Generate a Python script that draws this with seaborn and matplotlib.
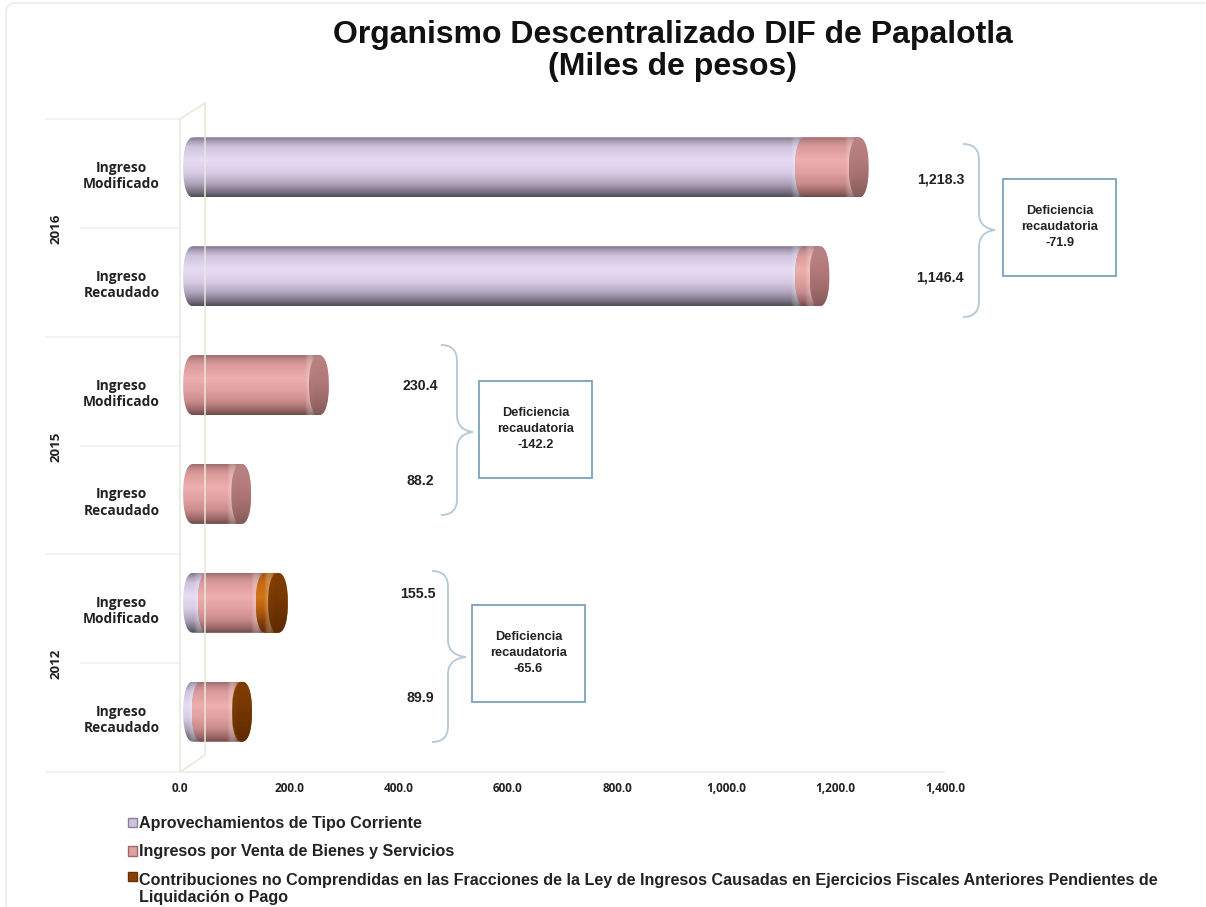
import numpy as np
import pandas as pd
import matplotlib
matplotlib.use("Agg")
import matplotlib.pyplot as plt
import seaborn as sns
from matplotlib.colors import LinearSegmentedColormap
from matplotlib.patches import PathPatch, Patch, FancyBboxPatch, Rectangle
from matplotlib.path import Path
from matplotlib.transforms import Affine2D, ScaledTranslation

# data
years = ["2016", "2015", "2012"]
rows = ["2016 mod", "2016 rec", "2015 mod", "2015 rec", "2012 mod", "2012 rec"]
row_labels = ["Ingreso\nModificado", "Ingreso\nRecaudado"] * 3
aprovechamientos = [1120.0, 1120.0, 0.0, 0.0, 27.0, 16.0]
venta_bienes = [98.3, 26.4, 230.4, 88.2, 106.0, 73.0]
contribuciones = [0.0, 0.0, 0.0, 0.0, 22.5, 0.9]
totals = ["1,218.3", "1,146.4", "230.4", "88.2", "155.5", "89.9"]
deficiencias = ["-71.9", "-142.2", "-65.6"]
x_ticks = [0, 200, 400, 600, 800, 1000, 1200, 1400]
legend_labels = [
    "Aprovechamientos de Tipo Corriente",
    "Ingresos por Venta de Bienes y Servicios",
    "Contribuciones no Comprendidas en las Fracciones de la Ley de Ingresos Causadas en Ejercicios Fiscales Anteriores Pendientes de\nLiquidación o Pago",
]

W, H = 1206, 907
sns.set_theme(style="white")
plt.rcParams["font.family"] = ["Liberation Sans", "DejaVu Sans"]

fig = plt.figure(figsize=(W / 100, H / 100), dpi=100)
ax = fig.add_axes([180 / W, 1 - 772 / H, (945 - 180) / W, (772 - 119) / H])
px = Affine2D().scale(1, -1).translate(0, H)  # reference pixels, y going down

df = pd.DataFrame({"row": rows, "aprov": aprovechamientos, "venta": venta_bienes, "contrib": contribuciones})

# colours of each cylinder, top edge to bottom edge (position, colour)
ramps = {
    "aprov": [(0, "#7f748b"), (0.06, "#a599b2"), (0.16, "#cfc3dd"), (0.38, "#e6dcf3"), (0.6, "#d8cce5"),
              (0.78, "#b0a4bd"), (0.92, "#77707f"), (1, "#4f4a57")],
    "venta": [(0, "#9c6c6c"), (0.06, "#bd8585"), (0.16, "#dc9a9a"), (0.38, "#ecaeae"), (0.6, "#e0a0a0"),
              (0.78, "#c88a8a"), (0.92, "#976565"), (1, "#6f4a4a")],
    "contrib": [(0, "#a35008"), (0.15, "#c66a12"), (0.4, "#cf7418"), (0.6, "#b85e0c"), (0.8, "#8a4204"), (1, "#5c2a00")],
}
caps = {
    "aprov": ["#a99dba", "#8f839e"],
    "venta": ["#b98484", "#a87070", "#875a5a"],
    "contrib": ["#7a3a02", "#6a3000", "#5e2a00"],
}
base = {"aprov": "#cfc3dc", "venta": "#e3a0a0", "contrib": "#a85408"}

RX = 18.0  # half width of the end ellipse, in data units
offset = ax.transData + ScaledTranslation(13 / 100, 6 / 100, fig.dpi_scale_trans)
grad = np.linspace(0, 1, 256)[:, None]


def end_curve(xc, yc, ry, side, p=0.88):
    t = np.linspace(-np.pi / 2, np.pi / 2, 60)
    xs = xc + side * RX * np.abs(np.cos(t)) ** p
    ys = yc + ry * np.sign(np.sin(t)) * np.abs(np.sin(t)) ** p
    return xs, ys


def cylinder(bar, name, z):
    x0, x1 = bar.get_x(), bar.get_x() + bar.get_width()
    y0, y1 = bar.get_y(), bar.get_y() + bar.get_height()
    yc, ry = (y0 + y1) / 2, (y1 - y0) / 2
    lx, ly = end_curve(x0, yc, ry, -1)
    rx, ry_pts = end_curve(x1, yc, ry, 1)
    outline = np.r_[np.c_[lx, ly], np.c_[rx, ry_pts][::-1]]
    clip = Path(np.r_[outline, outline[:1]], closed=True)
    cmap = LinearSegmentedColormap.from_list(name, ramps[name])
    im = ax.imshow(grad, cmap=cmap, extent=[x0 - RX, x1 + RX, y1, y0], aspect="auto", zorder=z, interpolation="bilinear")
    im.set_transform(offset)
    im.set_clip_path(clip, offset)
    # light streak just before the end
    streak = np.zeros((1, 64, 4))
    streak[..., :3] = 1
    streak[..., 3] = np.sin(np.linspace(0, np.pi, 64)) * 0.25
    im2 = ax.imshow(streak, extent=[x1 - 26, x1 - 6, y1, y0], aspect="auto", zorder=z + 0.1, interpolation="bilinear")
    im2.set_transform(offset)
    im2.set_clip_path(clip, offset)
    # darker end face
    fx, fy = end_curve(x1, yc, ry, 1)
    bx, by = end_curve(x1, yc, ry, -1)
    face = np.r_[np.c_[bx, by], np.c_[fx, fy][::-1]]
    face_path = Path(np.r_[face, face[:1]], closed=True)
    cap_map = LinearSegmentedColormap.from_list(name + "_cap", caps[name])
    im3 = ax.imshow(grad, cmap=cap_map, extent=[x1 - RX, x1 + RX, y1, y0], aspect="auto", zorder=z + 0.2, alpha=0.9)
    im3.set_transform(offset)
    im3.set_clip_path(face_path, offset)


# stacked bars
left = np.zeros(len(rows))
z = 3
for name in ["aprov", "venta", "contrib"]:
    sns.barplot(data=df, x=name, y="row", order=rows, orient="h", color=base[name], saturation=1,
                width=0.55, left=left, errorbar=None, linewidth=0, ax=ax)
    for bar in ax.containers[-1]:
        bar.set_transform(offset)
        bar.set_zorder(z)
        if bar.get_width() > 0:
            cylinder(bar, name, z)
    left = left + df[name].to_numpy()
    z += 1

ax.set_xlim(0, 1400)
ax.set_ylim(5.5, -0.5)
ax.set_xlabel("")
ax.set_ylabel("")
for s in ax.spines.values():
    s.set_visible(False)
ax.patch.set_alpha(0)

ax.set_xticks(x_ticks)
ax.set_xticklabels([f"{v:,.1f}" for v in x_ticks], fontsize=8.5, fontweight="bold", family="Open Sans", color="#222222")
ax.set_yticks(range(6))
ax.set_yticklabels(row_labels, fontsize=9.9, fontweight="bold", family="Open Sans", color="#222222", linespacing=1.2, ha="center")
ax.tick_params(axis="x", length=0, pad=7)
ax.tick_params(axis="y", length=0, pad=42)

# category rules left of the wall and the floor
rule = "#f1f1ed"
ax.hlines([-0.5, 1.5, 3.5, 5.5], -247, 0, color=rule, lw=1.2, clip_on=False, zorder=1)
ax.hlines([0.5, 2.5, 4.5], -183, 0, color=rule, lw=1.2, clip_on=False, zorder=1)
ax.hlines(5.5, 0, 1400, color="#ecece8", lw=1.2, clip_on=False, zorder=1)

# 3D wall
wall = "#e6e8da"
for seg in [[(180, 119), (180, 772)], [(205, 103), (205, 755)], [(180, 119), (205, 103)], [(180, 772), (205, 755)]]:
    fig.add_artist(plt.Line2D(*zip(*seg), transform=px, color=wall, lw=1.1, zorder=1))

# years
for year, y in zip(years, [229, 447, 664]):
    fig.text(56, y, year, transform=px, rotation=90, ha="center", va="center", fontsize=9.6, fontweight="bold", family="Open Sans", color="#222222")


def brace(x_tip, x_spine, x_point, y_top, y_mid, y_bottom):
    r = 13
    verts = [
        (x_tip, y_top),
        (x_spine, y_top), (x_spine, y_top + r + 3),
        (x_spine, y_mid - r - 4),
        (x_spine, y_mid - 2), (x_point, y_mid),
        (x_spine, y_mid + 2), (x_spine, y_mid + r + 4),
        (x_spine, y_bottom - r - 3),
        (x_spine, y_bottom), (x_tip, y_bottom),
    ]
    codes = [Path.MOVETO, Path.CURVE3, Path.CURVE3, Path.LINETO, Path.CURVE3, Path.CURVE3,
             Path.CURVE3, Path.CURVE3, Path.LINETO, Path.CURVE3, Path.CURVE3]
    fig.add_artist(PathPatch(Path(verts, codes), fill=False, edgecolor="#b4c8d8", lw=1.3, transform=px))


# deficit notes: brace, box, text
notes = [
    (deficiencias[0], (963, 979, 995, 144, 230, 317), (1003, 179), (totals[0], 941, 179), (totals[1], 940, 278)),
    (deficiencias[1], (441, 457, 473, 345, 432, 515), (479, 381), (totals[2], 420, 386), (totals[3], 420, 481)),
    (deficiencias[2], (432, 448, 466, 571, 657, 742), (472, 605), (totals[4], 418, 594), (totals[5], 420, 698)),
]
for value, br, corner, top, bottom in notes:
    brace(*br)
    fig.add_artist(Rectangle(corner, 113, 97, fill=True, facecolor="white", edgecolor="#7ba3bd", lw=1.3, transform=px))
    fig.text(corner[0] + 56.5, corner[1] + 48, f"Deficiencia\nrecaudatoria\n{value}", transform=px, ha="center", va="center",
             fontsize=9.2, fontweight="bold", color="#222222", linespacing=1.4)
    for label, x, y in (top, bottom):
        fig.text(x, y, label, transform=px, ha="center", va="center", fontsize=10.2, fontweight="bold", color="#222222")

# title
fig.text(673, 51, "Organismo Descentralizado DIF de Papalotla\n(Miles de pesos)", transform=px, ha="center", va="center",
         fontsize=23, fontweight="bold", color="#111111", linespacing=1.08)

# legend
handles = [Patch(facecolor=base["aprov"], edgecolor="#8a8296"), Patch(facecolor=base["venta"], edgecolor="#9c6767"),
           Patch(facecolor="#8a4204", edgecolor="#6a3000")]
leg = fig.legend(handles, legend_labels, loc="upper left", bbox_to_anchor=(125 / W, 1 - 813 / H), frameon=False,
                 prop={"family": "Liberation Sans", "weight": "bold", "size": 11.6}, handlelength=0.55, handleheight=0.55,
                 handletextpad=0.11, labelspacing=0.82, labelcolor="#222222", borderpad=0.2, borderaxespad=0, alignment="left")
brown_handle = leg.legend_handles[2]
brown_handle.set_y(brown_handle.get_y() + 9)  # marker sits on the first line of the wrapped label

# picture frame
frame = FancyBboxPatch((6, 3), 1240, 940, boxstyle="round,pad=0,rounding_size=10", fill=False, edgecolor="#ececec", lw=1.2, transform=px)
fig.add_artist(frame)

fig.savefig("out.png", dpi=100)
